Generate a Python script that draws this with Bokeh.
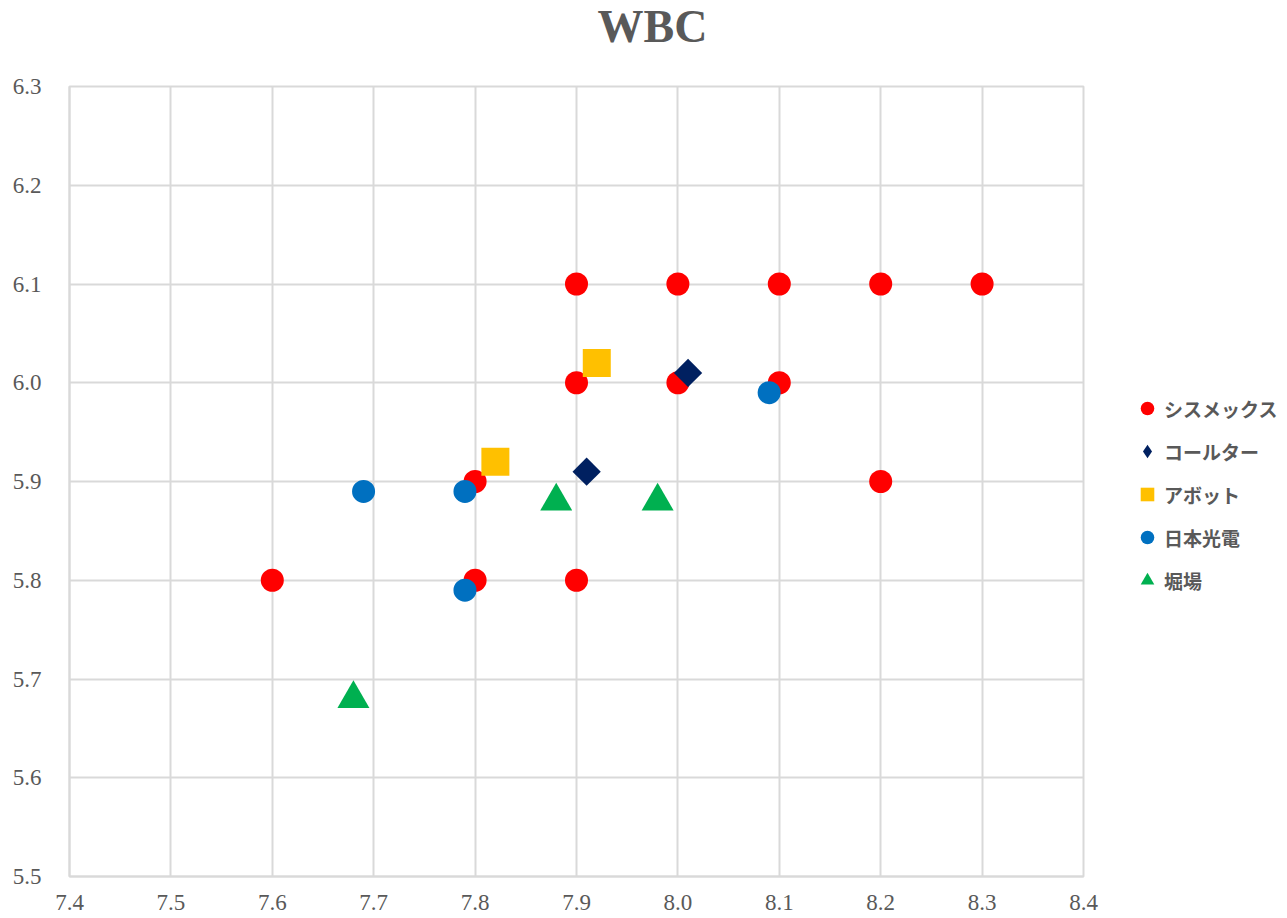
import math
from bokeh.plotting import figure
from bokeh.models import Range1d, FixedTicker, PrintfTickFormatter, Legend, LegendItem, Title
from bokeh.embed import file_html
from bokeh.resources import INLINE

title_text = "WBC"

sysmex_x = [7.6, 7.8, 7.8, 7.9, 7.9, 7.9, 8.0, 8.0, 8.1, 8.1, 8.2, 8.2, 8.3]
sysmex_y = [5.8, 5.9, 5.8, 5.8, 6.0, 6.1, 6.1, 6.0, 6.1, 6.0, 6.1, 5.9, 6.1]
coulter_x = [7.91, 8.01]
coulter_y = [5.91, 6.01]
abbott_x = [7.82, 7.92]
abbott_y = [5.92, 6.02]
nihon_x = [7.69, 7.79, 7.79, 8.09]
nihon_y = [5.89, 5.89, 5.79, 5.99]
horiba_x = [7.68, 7.88, 7.98]
horiba_y = [5.68, 5.88, 5.88]

series_names = ["シスメックス", "コールター", "アボット", "日本光電", "堀場"]
x_ticks = [7.4, 7.5, 7.6, 7.7, 7.8, 7.9, 8.0, 8.1, 8.2, 8.3, 8.4]
y_ticks = [5.5, 5.6, 5.7, 5.8, 5.9, 6.0, 6.1, 6.2, 6.3]

GRID = "#d9d9d9"
TXT = "#595959"

p = figure(frame_width=1014, frame_height=790, title=None,
           min_border_left=69, min_border_top=86, min_border_bottom=41, min_border_right=200,
           x_range=Range1d(7.4, 8.4), y_range=Range1d(5.5, 6.3),
           output_backend="svg", toolbar_location=None)

# spacer between the frame and the title (closest to the frame)
p.add_layout(Title(text=" ", text_font_size="1px", standoff=30), "above")
p.add_layout(Title(text=title_text, align="left", offset=528, vertical_align="top",
                   standoff=0, text_font="Liberation Serif", text_font_size="46px",
                   text_font_style="bold", text_color=TXT), "above")

for ax, ticks in ((p.xaxis[0], x_ticks), (p.yaxis[0], y_ticks)):
    ax.ticker = FixedTicker(ticks=ticks)
    ax.formatter = PrintfTickFormatter(format="%.1f")
    ax.major_label_text_font = "Liberation Serif"
    ax.major_label_text_font_size = "23px"
    ax.major_label_text_color = TXT
    ax.major_tick_line_color = None
    ax.minor_tick_line_color = None
    ax.axis_line_color = GRID
    ax.axis_line_width = 2
p.xaxis.major_label_standoff = 12
p.yaxis.major_label_standoff = 22

p.xgrid.grid_line_color = GRID
p.ygrid.grid_line_color = GRID
p.xgrid.grid_line_width = 2
p.ygrid.grid_line_width = 2
p.outline_line_color = GRID
p.outline_line_width = 2

r1 = p.scatter(sysmex_x, sysmex_y, marker="circle", size=23, fill_color="#FF0000", line_color=None)
# narrow diamond used for the legend swatch, hidden under the square diamond
r2_leg = p.scatter(coulter_x, coulter_y, marker="diamond", size=20, fill_color="#002060", line_color=None)
r2 = p.scatter(coulter_x, coulter_y, marker="square", size=20, angle=math.pi / 4,
               fill_color="#002060", line_color=None)
r3 = p.scatter(abbott_x, abbott_y, marker="square", size=28, fill_color="#FFC000", line_color=None)
r4 = p.scatter(nihon_x, nihon_y, marker="circle", size=23, fill_color="#0070C0", line_color=None)
r5 = p.scatter(horiba_x, horiba_y, marker="triangle", size=32, fill_color="#00B050", line_color=None)

items = [LegendItem(label=n, renderers=[r]) for n, r in zip(series_names, [r1, r2_leg, r3, r4, r5])]
legend = Legend(items=items, location=(47, 276), orientation="vertical",
                glyph_width=34, glyph_height=40, spacing=3, padding=0, margin=0,
                label_standoff=0, label_text_font="Noto Sans CJK JP",
                label_text_font_style="bold", label_text_font_size="19px",
                label_text_color=TXT, border_line_color=None, background_fill_alpha=0)
p.add_layout(legend, "right")

open("out.html", "w").write(file_html(p, INLINE))
